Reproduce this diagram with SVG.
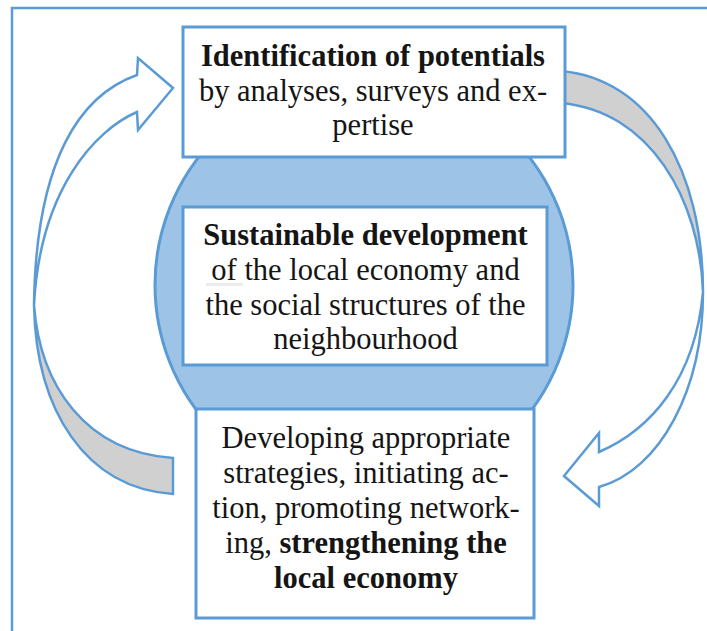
<svg xmlns="http://www.w3.org/2000/svg" width="707" height="631" viewBox="0 0 707 631">
  <style>
    .box { fill: #ffffff; stroke: #5B9BD5; stroke-width: 3; }
    .hub { fill: #9DC3E6; stroke: #5B9BD5; stroke-width: 3; }
    .front { fill: #ffffff; stroke: #5B9BD5; stroke-width: 2.5; stroke-linejoin: miter; }
    .back { fill: #D0D0D0; stroke: #5B9BD5; stroke-width: 2.5; }
    .lbl { font-family: "Liberation Serif", "DejaVu Serif", serif; font-size: 30.5px; fill: #151515; text-anchor: middle; }
    .b { font-weight: bold; }
  </style>

  <!-- outer frame, running off the page to the right and bottom -->
  <rect x="12" y="8" width="740" height="660" fill="none" stroke="#5B9BD5" stroke-width="2.5"/>

  <!-- curved cycle arrows -->
  <g id="connectors">
    <!-- left: from the strategies box up to the potentials box -->
    <g id="arrow-left">
      <path class="back" d="M34,305 C36,410 85,488 173,494 L173,458 C85,452 40,385 34,305 Z"/>
      <path class="front" d="M137,75 C80,95 36,160 34,305 C40,190 95,130 137,112 L138,130 L173,88 L138,58 Z"/>
    </g>
    <!-- right: from the potentials box down to the strategies box -->
    <g id="arrow-right">
      <path class="back" d="M560,71 C650,78 703,170 703,292 C700,200 650,110 560,103 Z"/>
      <path class="front" d="M703,292 C703,390 660,470 599,487 L599,506 L564,476 L599,433 L599,452 C650,430 695,380 703,292 Z"/>
    </g>
  </g>

  <g id="node-sustainable">
    <circle class="hub" cx="364" cy="285" r="209"/>
    <rect class="box" x="183" y="207" width="364" height="158"/>
    <rect x="206" y="283" width="37" height="3" fill="#ECECEC"/>
    <text class="lbl b" x="365.5" y="245">Sustainable development</text>
    <text class="lbl" x="365.5" y="280">of the local economy and</text>
    <text class="lbl" x="365.5" y="315">the social structures of the</text>
    <text class="lbl" x="365.5" y="349">neighbourhood</text>
  </g>

  <g id="node-potentials">
    <rect class="box" x="183" y="27" width="382" height="130"/>
    <text class="lbl b" x="373" y="66">Identification of potentials</text>
    <text class="lbl" x="373" y="101">by analyses, surveys and ex-</text>
    <text class="lbl" x="373" y="135">pertise</text>
  </g>

  <g id="node-strategies">
    <rect class="box" x="196" y="409" width="338" height="209"/>
    <text class="lbl" x="366" y="448">Developing appropriate</text>
    <text class="lbl" x="366" y="483">strategies, initiating ac-</text>
    <text class="lbl" x="366" y="518">tion, promoting network-</text>
    <text class="lbl" x="366" y="553">ing, <tspan class="b">strengthening the</tspan></text>
    <text class="lbl b" x="366" y="588">local economy</text>
  </g>
</svg>
